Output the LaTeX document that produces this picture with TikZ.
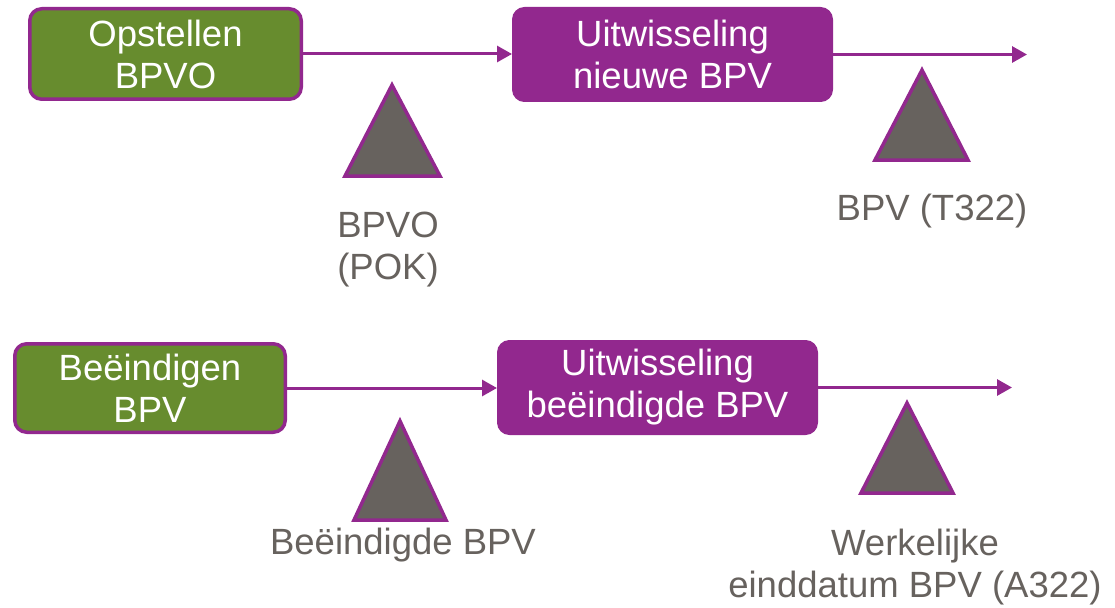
\documentclass[tikz,border=0pt]{standalone}
\usepackage{fontspec}
\setmainfont{Liberation Sans}
\usetikzlibrary{arrows.meta}
\definecolor{pgreen}{RGB}{103,140,46}
\definecolor{ppurple}{RGB}{146,40,142}
\definecolor{pgrey}{RGB}{103,98,94}
\begin{document}
\begin{tikzpicture}[x=1pt,y=-1pt,
  txt/.style={font=\fontsize{36.5}{42}\selectfont, align=center},
  gbox/.style={txt, rectangle, rounded corners=12pt, fill=pgreen, draw=ppurple, line width=3.5pt, text=white, inner sep=0pt},
  pbox/.style={txt, rectangle, rounded corners=12pt, fill=ppurple, draw=ppurple, line width=1pt, text=white, inner sep=0pt},
  flow/.style={draw=ppurple, line width=3pt, -{Triangle[length=15pt,width=16pt]}},
  tri/.style={fill=pgrey, draw=ppurple, line width=3.5pt, line join=miter},
  lbl/.style={txt, text=pgrey, inner sep=0pt}]
\useasboundingbox (0,0) rectangle (1115,607);

% top row
\node[gbox, minimum width=271.5pt, minimum height=90.5pt] (g1) at (165.5,54) {Opstellen\\BPVO};
\node[pbox, minimum width=320pt, minimum height=94pt] (p1) at (672.5,54.5) {Uitwisseling\\nieuwe BPV};
\coordinate (e1) at (1027,55);
\draw[flow] (g1.east) -- (g1.east -| p1.west);
\draw[flow] (p1.east) -- (p1.east -| e1);
\draw[tri] (392,85) -- (440,176) -- (345,176) -- cycle;
\draw[tri] (922,70) -- (968,160) -- (875,160) -- cycle;
\node[lbl] (l1) at (388,250) {BPVO\\(POK)};
\node[lbl, anchor=base] (l2) at (932,220) {BPV (T322)};

% bottom row
\node[gbox, minimum width=270.5pt, minimum height=88.5pt] (g2) at (150,388) {Beëindigen\\BPV};
\node[pbox, minimum width=320pt, minimum height=94pt] (p2) at (657.5,387.5) {Uitwisseling\\beëindigde BPV};
\coordinate (e2) at (1012,389);
\draw[flow] (g2.east) -- (g2.east -| p2.west);
\draw[flow] (p2.east) -- (p2.east -| e2);
\draw[tri] (400,421) -- (446,520) -- (354,520) -- cycle;
\draw[tri] (907,403) -- (953,493) -- (861,493) -- cycle;
\node[lbl, anchor=base] (l3) at (403,554) {Beëindigde BPV};
\node[lbl] (l4) at (915,567) {Werkelijke\\einddatum BPV (A322)};
\end{tikzpicture}
\end{document}
